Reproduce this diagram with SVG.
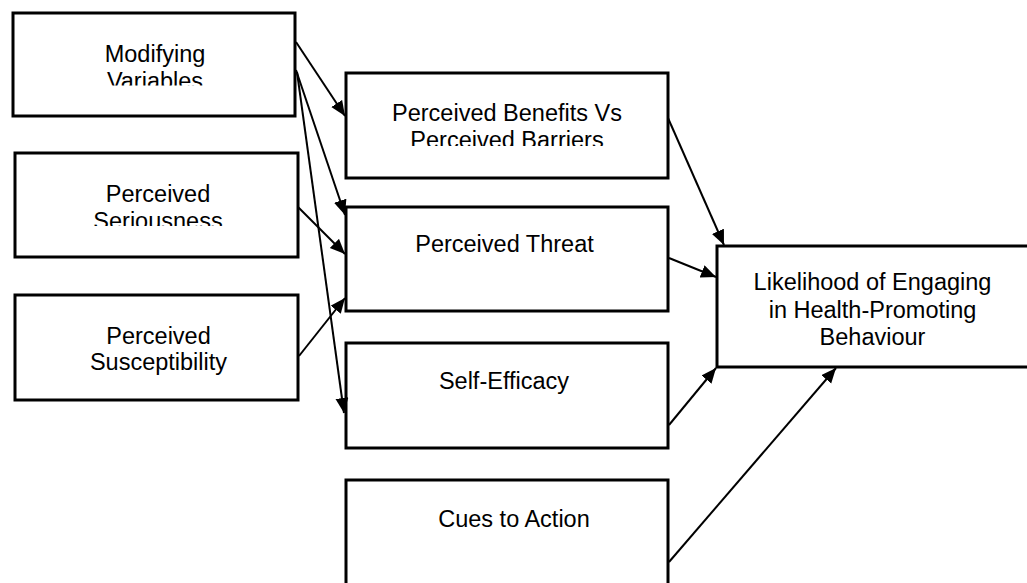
<svg xmlns="http://www.w3.org/2000/svg" width="1027" height="583" viewBox="0 0 1027 583">
<style>
.box{fill:#fff;stroke:#000;stroke-width:3}
.t{font-family:"Liberation Sans",Arial,sans-serif;font-size:23.5px;fill:#000;text-anchor:middle}
.c{stroke:#000;stroke-width:2;fill:none;marker-end:url(#ah)}
</style>
<defs>
<marker id="ah" markerUnits="userSpaceOnUse" markerWidth="17" markerHeight="15" refX="15" refY="6.5" orient="auto">
<path d="M0,0 L15,6.5 L0,13 z" fill="#000"/>
</marker>
<clipPath id="c1"><rect x="0" y="0" width="400" height="85.5"/></clipPath>
<clipPath id="c2"><rect x="0" y="140" width="400" height="86"/></clipPath>
<clipPath id="c4"><rect x="340" y="60" width="340" height="86"/></clipPath>
</defs>
<rect width="1027" height="583" fill="#fff"/>
<g id="n-modifying">
<rect class="box" x="13" y="13" width="282" height="103"/>
<text class="t" clip-path="url(#c1)"><tspan x="155" y="62">Modifying</tspan><tspan x="155" y="89">Variables</tspan></text>
</g>
<g id="n-seriousness">
<rect class="box" x="15" y="153" width="283" height="104"/>
<text class="t" clip-path="url(#c2)"><tspan x="158" y="202">Perceived</tspan><tspan x="158" y="229">Seriousness</tspan></text>
</g>
<g id="n-susceptibility">
<rect class="box" x="15" y="295" width="283" height="105"/>
<text class="t"><tspan x="158.5" y="343.5">Perceived</tspan><tspan x="158.5" y="370">Susceptibility</tspan></text>
</g>
<g id="n-benefits">
<rect class="box" x="346" y="73" width="322" height="105"/>
<text class="t" clip-path="url(#c4)"><tspan x="507" y="121">Perceived Benefits Vs</tspan><tspan x="507" y="148">Perceived Barriers</tspan></text>
</g>
<g id="n-threat">
<rect class="box" x="346" y="207" width="322" height="104"/>
<text class="t" x="504.5" y="252">Perceived Threat</text>
</g>
<g id="n-selfefficacy">
<rect class="box" x="346" y="343" width="322" height="105"/>
<text class="t" x="504" y="389">Self-Efficacy</text>
</g>
<g id="n-cues">
<rect class="box" x="346" y="480" width="322" height="112"/>
<text class="t" x="514" y="527">Cues to Action</text>
</g>
<g id="n-likelihood">
<rect class="box" x="717" y="246" width="330" height="121"/>
<text class="t"><tspan x="872.5" y="289.5">Likelihood of Engaging</tspan><tspan x="872.5" y="317.5">in Health-Promoting</tspan><tspan x="872.5" y="344.5">Behaviour</tspan></text>
</g>
<g id="connectors">
<line class="c" x1="296" y1="42" x2="345" y2="116"/>
<line class="c" x1="296" y1="70" x2="345" y2="215"/>
<line class="c" x1="297" y1="72" x2="344" y2="413"/>
<line class="c" x1="298" y1="207" x2="345" y2="254"/>
<line class="c" x1="299" y1="356" x2="345" y2="298"/>
<line class="c" x1="668" y1="118" x2="724" y2="245"/>
<line class="c" x1="669" y1="258" x2="716" y2="277"/>
<line class="c" x1="669" y1="425" x2="716" y2="368"/>
<line class="c" x1="669" y1="562" x2="836" y2="368"/>
</g>
</svg>
